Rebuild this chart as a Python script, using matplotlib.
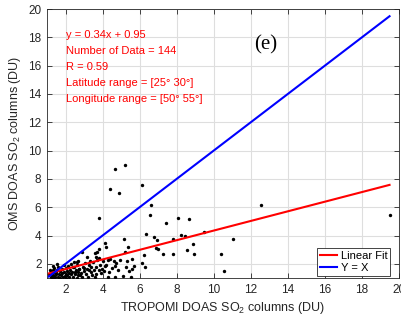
import matplotlib
matplotlib.use("Agg")
import matplotlib.pyplot as plt
import numpy as np

# TROPOMI vs OMS DOAS SO2 columns (DU)
tropomi = [
    4.69, 5.19, 4.40, 4.90, 6.13, 3.79, 6.61, 6.54, 7.42, 8.05, 8.66,
    6.34, 6.76, 6.94, 6.88, 6.99, 7.28, 7.82, 7.78, 8.25, 8.46, 8.56,
    8.90, 8.92, 5.17, 4.18, 5.39, 5.19, 3.79, 3.70, 4.94, 4.40, 4.74,
    4.67, 5.26, 5.59, 5.68, 5.59, 6.14, 6.22, 6.29, 4.11, 4.27, 4.69,
    5.12, 5.55, 3.57, 3.95, 3.68, 3.79, 3.59, 3.66, 3.34, 3.28, 3.01,
    3.10, 2.78, 2.64, 2.71, 2.42, 2.51, 3.18, 4.15, 3.64, 2.91, 2.67,
    9.47, 11.06, 10.41, 10.57, 12.53, 19.49,
    1.10, 1.15, 1.20, 1.20, 1.25, 1.30, 1.30, 1.35, 1.40, 1.40, 1.45,
    1.50, 1.50, 1.55, 1.60, 1.60, 1.65, 1.70, 1.70, 1.75, 1.80, 1.80,
    1.85, 1.90, 1.90, 1.95, 2.00, 2.00, 2.05, 2.10, 2.10, 2.15, 2.20,
    2.20, 2.25, 2.30, 2.30, 2.35, 2.40, 2.45, 2.50, 2.55, 2.60, 2.60,
    2.65, 2.70, 2.75, 2.85, 2.90, 2.95, 3.00, 3.05, 3.15, 3.20, 3.25,
    3.35, 3.40, 3.45, 3.50, 3.55, 3.65, 3.80, 3.85, 3.90, 4.00, 4.05,
    4.20, 4.30, 4.35, 4.50, 4.60, 4.85, 5.30, 5.45, 1.30, 1.55, 2.45,
]
oms = [
    8.67, 9.00, 7.26, 6.97, 7.58, 5.21, 6.17, 5.44, 4.88, 5.25, 5.16,
    4.10, 3.89, 3.65, 3.11, 3.06, 2.73, 2.73, 3.75, 4.05, 3.94, 2.99,
    3.37, 2.68, 3.75, 3.16, 3.16, 2.83, 3.06, 2.83, 2.26, 2.35, 2.05,
    1.84, 1.75, 2.31, 1.84, 1.65, 2.07, 2.61, 1.79, 1.84, 1.08, 1.08,
    1.15, 1.08, 1.04, 1.67, 2.26, 2.38, 2.78, 1.75, 2.21, 1.55, 1.70,
    1.25, 1.20, 2.14, 1.67, 1.79, 1.43, 2.45, 3.49, 2.50, 2.81, 2.21,
    4.22, 3.77, 2.69, 1.46, 6.13, 5.42,
    1.30, 1.60, 1.10, 1.45, 1.20, 1.55, 1.00, 1.35, 1.15, 1.70, 1.05,
    1.40, 1.25, 1.60, 1.10, 1.80, 1.30, 1.00, 1.50, 1.20, 1.65, 1.35,
    1.05, 1.45, 1.90, 1.15, 1.30, 1.70, 1.00, 1.50, 1.20, 1.85, 1.35,
    1.05, 1.60, 1.25, 2.00, 1.45, 1.10, 1.75, 1.30, 1.55, 1.00, 1.90,
    1.40, 1.20, 1.65, 1.35, 1.05, 1.80, 1.50, 2.05, 1.65, 1.10, 1.90,
    1.40, 1.75, 1.20, 2.10, 1.55, 1.30, 1.60, 1.95, 1.35, 2.20, 1.50,
    1.90, 2.30, 1.40, 1.70, 2.20, 1.60, 2.20, 1.50, 1.85, 2.00, 2.10,
]

slope = 0.34
intercept = 0.95
n_data = 144
r_value = 0.59
lat_range = (25, 30)
lon_range = (50, 55)

x_ticks = [2, 4, 6, 8, 10, 12, 14, 16, 18, 20]
y_ticks = [2, 4, 6, 8, 10, 12, 14, 16, 18, 20]

plt.rcParams['font.family'] = ['Liberation Sans', 'DejaVu Sans']
plt.rcParams['mathtext.fontset'] = 'custom'
plt.rcParams['mathtext.rm'] = 'Liberation Sans'
plt.rcParams['mathtext.it'] = 'Liberation Sans'

tick_col = '#262626'

fig = plt.figure(figsize=(4.01, 3.20), dpi=100)
ax = fig.add_axes([47 / 401, 1 - 278 / 320, (399 - 47) / 401, (278 - 9) / 320])

ax.scatter(tropomi, oms, s=6, c='black', zorder=3, linewidths=0)

xa = np.array([min(tropomi), max(tropomi)])
ax.plot(xa, slope * xa + intercept, color='red', lw=1.5, label='Linear Fit', zorder=4)
ax.plot(xa, xa, color='blue', lw=1.5, label='Y = X', zorder=4)

ax.set_xlim(1, 20)
ax.set_ylim(1, 20)
ax.set_xticks(x_ticks)
ax.set_yticks(y_ticks)
ax.set_xticklabels([str(t) for t in x_ticks])
ax.set_yticklabels([str(t) for t in y_ticks])
ax.tick_params(direction='in', top=True, right=True, length=3.5, width=0.6,
               labelsize=8.5, colors=tick_col, pad=4)
for sp in ax.spines.values():
    sp.set_color(tick_col)
    sp.set_linewidth(0.6)
ax.grid(True, color='#dedede', lw=0.8)
ax.set_axisbelow(True)

ax.set_xlabel('TROPOMI DOAS SO$_2$ columns (DU)', fontsize=9, color=tick_col, labelpad=3)
ax.set_ylabel('OMS DOAS SO$_2$ columns (DU)', fontsize=9, color=tick_col, labelpad=4)

lines = [
    f'y = {slope}x + {intercept}',
    f'Number of Data = {n_data}',
    f'R = {r_value}',
    f'Latitude range = [{lat_range[0]}\u00b0 {lat_range[1]}\u00b0]',
    f'Longitude range = [{lon_range[0]}\u00b0 {lon_range[1]}\u00b0]',
]
for i, t in enumerate(lines):
    ax.text(2.0, 18.15 - i * 1.12, t, color='red', fontsize=8, va='center', ha='left')

ax.text(12.8, 17.5, '(e)', fontsize=15, family=['Liberation Serif', 'DejaVu Serif'],
        ha='center', va='center', color='black')

leg = ax.legend(loc='lower right', bbox_to_anchor=(0.975, 0.008), borderaxespad=0,
                fontsize=8, frameon=True, fancybox=False,
                edgecolor=tick_col, framealpha=1, handlelength=1.6, handletextpad=0.3,
                borderpad=0.25, labelspacing=0.2)
leg.get_frame().set_linewidth(0.6)

fig.savefig('out.png', dpi=100)
